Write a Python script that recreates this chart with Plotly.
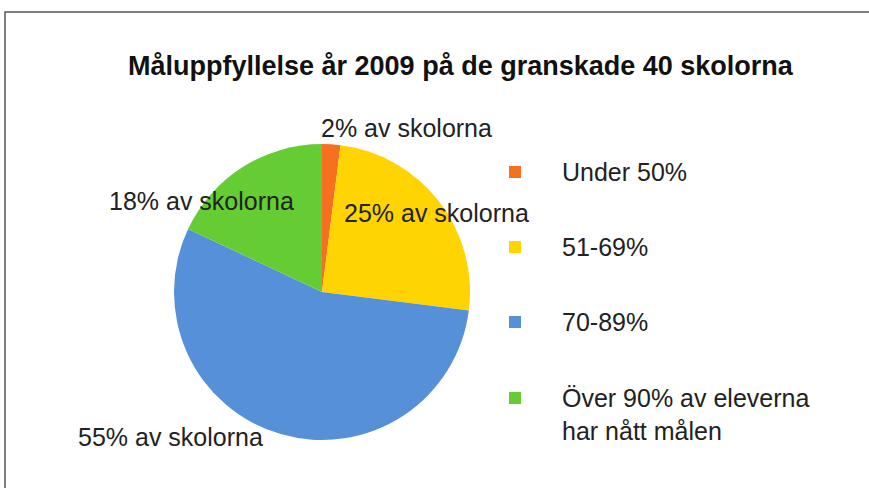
import plotly.graph_objects as go

W, H = 869, 488

title = "Måluppfyllelse år 2009 på de granskade 40 skolorna"
categories = ["Under 50%", "51-69%", "70-89%", "Över 90% av eleverna<br>har nått målen"]
values = [2, 25, 55, 18]
colors = ["#F7701F", "#FFD400", "#5590D8", "#66CC33"]
label_suffix = "% av skolorna"

# layout positions (pixels)
label_pos = [(319, 128), (342, 213), (76, 437), (107, 201)]
legend_marker_x = 509
legend_text_x = 560
legend_y = [172, 247, 322, 398]


def px(x):
    return x / W


def py(y):
    return 1 - y / H


cx, cy, r = 322, 292, 148

fig = go.Figure()
fig.add_trace(go.Pie(
    labels=categories,
    values=values,
    marker=dict(colors=colors, line=dict(width=0)),
    sort=False,
    direction="clockwise",
    rotation=0,
    textinfo="none",
    showlegend=False,
    domain=dict(x=[px(cx - r), px(cx + r)], y=[py(cy + r), py(cy - r)]),
))

font = dict(family="Liberation Sans, Arial, sans-serif", size=25, color="#222222")

annotations = []
for v, (x, y) in zip(values, label_pos):
    annotations.append(dict(
        text=f"{v}{label_suffix}", x=px(x), y=py(y), xref="paper", yref="paper",
        xanchor="left", yanchor="middle", showarrow=False, font=font,
    ))

shapes = []
for cat, col, y in zip(categories, colors, legend_y):
    shapes.append(dict(
        type="rect", xref="paper", yref="paper",
        x0=px(legend_marker_x), x1=px(legend_marker_x + 12),
        y0=py(y + 6), y1=py(y - 6),
        fillcolor=col, line=dict(width=0),
    ))
    annotations.append(dict(
        text=cat, x=px(legend_text_x), y=py(y - 16), xref="paper", yref="paper",
        xanchor="left", yanchor="top", align="left", showarrow=False, font=font,
    ))

# frame
shapes.append(dict(
    type="rect", xref="paper", yref="paper",
    x0=px(5), x1=px(W + 10), y0=py(H + 10), y1=py(12),
    line=dict(color="#555555", width=1.5), fillcolor="rgba(0,0,0,0)",
))

annotations.append(dict(
    text=f"<b>{title}</b>", x=px(461), y=py(66), xref="paper", yref="paper",
    xanchor="center", yanchor="middle", showarrow=False,
    font=dict(family="Liberation Sans, Arial, sans-serif", size=27, color="#111111"),
))

fig.update_layout(
    width=W, height=H,
    margin=dict(l=0, r=0, t=0, b=0),
    paper_bgcolor="white", plot_bgcolor="white",
    annotations=annotations, shapes=shapes,
    showlegend=False,
)

fig.write_html(
    "out.html",
    config={"displayModeBar": False},
    post_script="document.body.style.margin='0';document.body.style.overflow='hidden';",
)
